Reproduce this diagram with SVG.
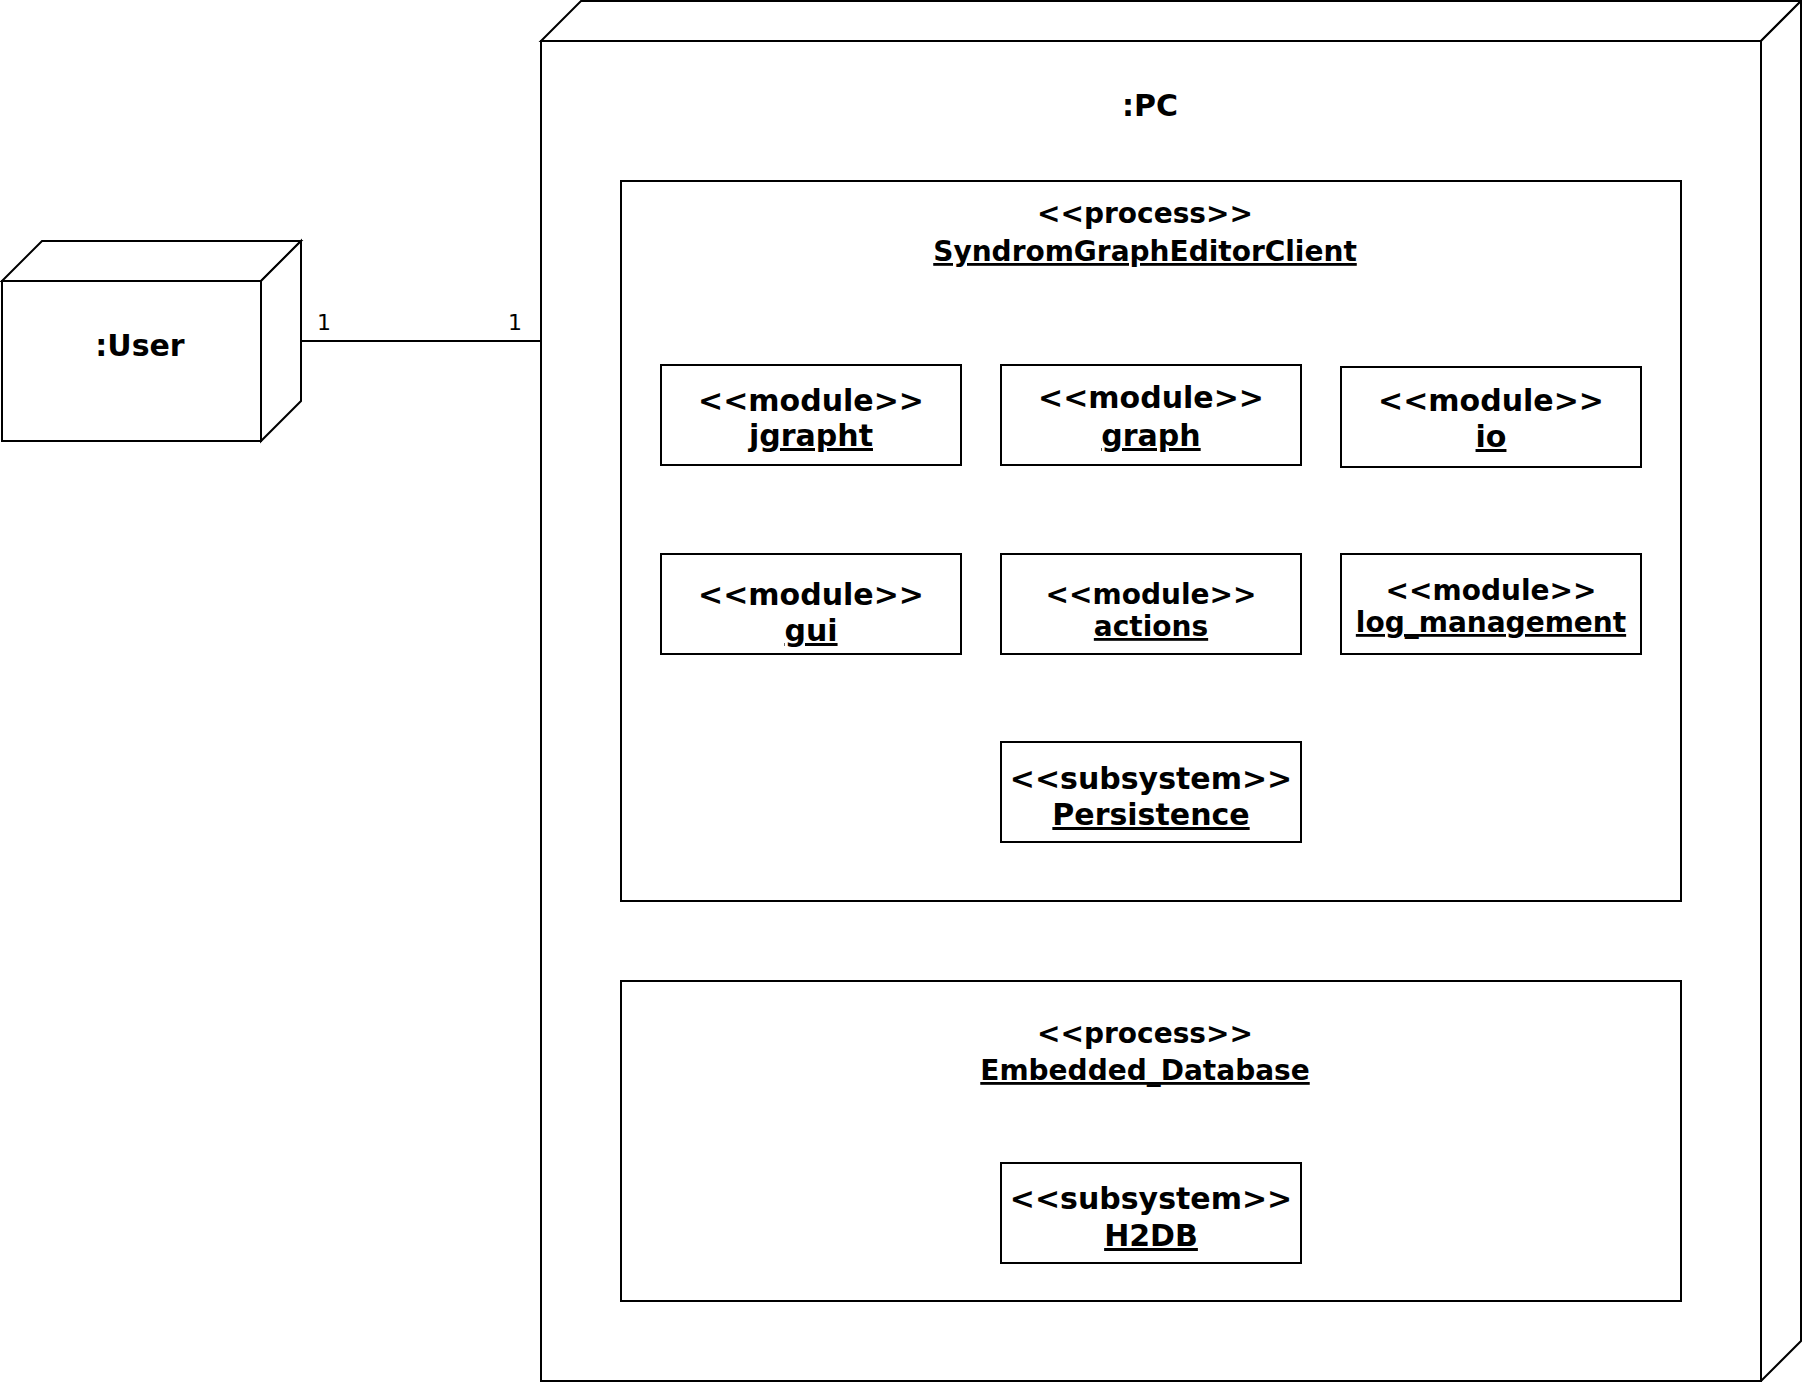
<svg xmlns="http://www.w3.org/2000/svg" width="1802" height="1382" viewBox="0 0 1802 1382">
<style>
.sh{fill:#fff;stroke:#000;stroke-width:2}
.ln{fill:none;stroke:#000;stroke-width:2}
.t{font-family:"DejaVu Sans","Verdana",sans-serif;font-weight:bold;text-anchor:middle;fill:#000}
.u{text-decoration:underline}
.m{font-family:"DejaVu Sans","Verdana",sans-serif;font-size:22px;text-anchor:middle;fill:#000}
</style>
<rect width="1802" height="1382" fill="#fff"/>
<g id="pc">
<rect class="sh" x="541" y="41" width="1220" height="1340"/>
<path class="sh" d="M541,41 L581,1 L1801,1 L1761,41 Z"/>
<path class="sh" d="M1761,41 L1801,1 L1801,1341 L1761,1381 Z"/>
<text class="t" x="1150" y="116" font-size="30">:PC</text>
</g>
<g id="user">
<rect class="sh" x="2" y="281" width="259" height="160"/>
<path class="sh" d="M2,281 L42,241 L301,241 L261,281 Z"/>
<path class="sh" d="M261,281 L301,241 L301,401 L261,441 Z"/>
<text class="t" x="140" y="356" font-size="30">:User</text>
</g>
<g id="proc-client">
<rect class="sh" x="621" y="181" width="1060" height="720"/>
<text class="t" x="1145" y="223" font-size="28">&lt;&lt;process&gt;&gt;</text>
<text class="t u" x="1145" y="261" font-size="28">SyndromGraphEditorClient</text>
</g>
<g id="mod-jgrapht">
<rect class="sh" x="661" y="365" width="300" height="100"/>
<text class="t" x="811" y="411" font-size="30">&lt;&lt;module&gt;&gt;</text>
<text class="t u" x="811" y="446" font-size="30">jgrapht</text>
</g>
<g id="mod-graph">
<rect class="sh" x="1001" y="365" width="300" height="100"/>
<text class="t" x="1151" y="408" font-size="30">&lt;&lt;module&gt;&gt;</text>
<text class="t u" x="1151" y="446" font-size="30">graph</text>
</g>
<g id="mod-io">
<rect class="sh" x="1341" y="367" width="300" height="100"/>
<text class="t" x="1491" y="411" font-size="30">&lt;&lt;module&gt;&gt;</text>
<text class="t u" x="1491" y="447" font-size="30">io</text>
</g>
<g id="mod-gui">
<rect class="sh" x="661" y="554" width="300" height="100"/>
<text class="t" x="811" y="605" font-size="30">&lt;&lt;module&gt;&gt;</text>
<text class="t u" x="811" y="641" font-size="30">gui</text>
</g>
<g id="mod-actions">
<rect class="sh" x="1001" y="554" width="300" height="100"/>
<text class="t" x="1151" y="604" font-size="28">&lt;&lt;module&gt;&gt;</text>
<text class="t u" x="1151" y="636" font-size="28">actions</text>
</g>
<g id="mod-log">
<rect class="sh" x="1341" y="554" width="300" height="100"/>
<text class="t" x="1491" y="600" font-size="28">&lt;&lt;module&gt;&gt;</text>
<text class="t u" x="1491" y="632" font-size="28">log_management</text>
</g>
<g id="sub-persistence">
<rect class="sh" x="1001" y="742" width="300" height="100"/>
<text class="t" x="1151" y="789" font-size="30">&lt;&lt;subsystem&gt;&gt;</text>
<text class="t u" x="1151" y="825" font-size="30">Persistence</text>
</g>
<g id="proc-db">
<rect class="sh" x="621" y="981" width="1060" height="320"/>
<text class="t" x="1145" y="1043" font-size="28">&lt;&lt;process&gt;&gt;</text>
<text class="t u" x="1145" y="1080" font-size="28">Embedded_Database</text>
</g>
<g id="sub-h2db">
<rect class="sh" x="1001" y="1163" width="300" height="100"/>
<text class="t" x="1151" y="1209" font-size="30">&lt;&lt;subsystem&gt;&gt;</text>
<text class="t u" x="1151" y="1246" font-size="30">H2DB</text>
</g>
<g id="connectors">
<line class="ln" x1="301" y1="341" x2="541" y2="341"/>
<text class="m" x="324" y="330">1</text>
<text class="m" x="515" y="330">1</text>
</g>
</svg>
